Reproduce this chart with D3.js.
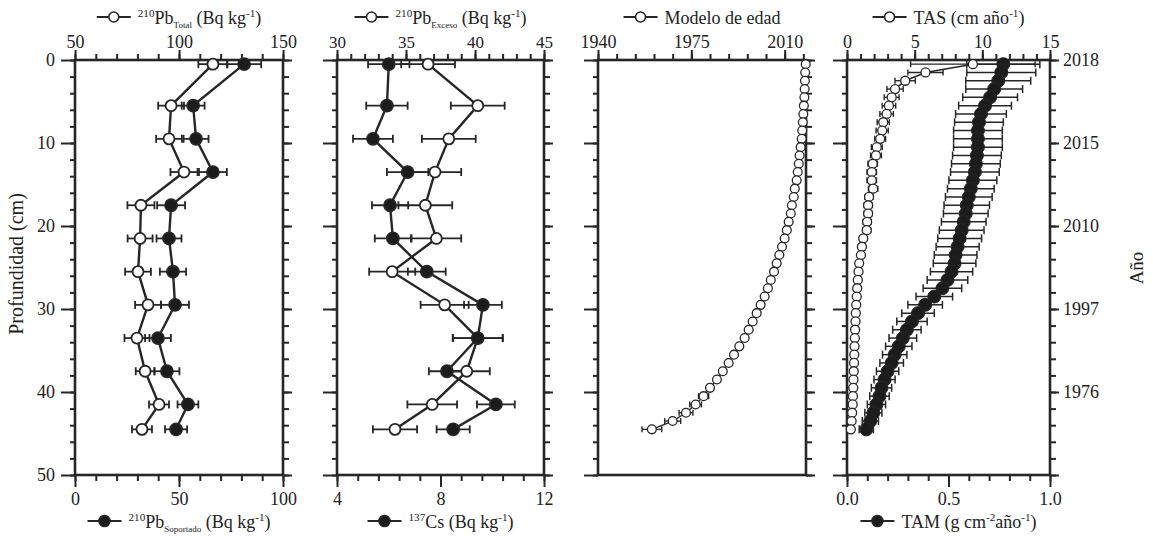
<!DOCTYPE html>
<html>
<head>
<meta charset="utf-8">
<script src="https://cdn.jsdelivr.net/npm/d3@7"></script>
<style>
body { margin: 0; background: #fff; }
text { font-family: "Liberation Serif", "Times New Roman", serif; fill: #222; }
</style>
</head>
<body>
<svg id="chart" width="1153" height="536"></svg>
<script>
/*
** Data
 */

// discrete samples (cm)
var sampleDepth = [0.5, 5.5, 9.5, 13.5, 17.5, 21.5, 25.5, 29.5, 33.5, 37.5, 41.5, 44.5];
var pbTotal     = [116.3, 96.2, 95.2, 102.4, 81.7, 81.3, 80.3, 85.1, 79.8, 83.7, 90.4, 82.2];
var pbTotalErr  = [7, 6.2, 6.2, 6.5, 6.5, 6, 6.2, 6.2, 6, 4.5, 4.8, 4.8];
var pbSop       = [81.3, 56.8, 58.2, 66.3, 46.2, 45.2, 47.1, 48.1, 39.9, 44.2, 54.3, 48.6];
var pbSopErr    = [8.2, 5.5, 6, 6.7, 6.7, 6, 6.3, 6.7, 6.2, 6, 5, 5.3];
var pbExceso    = [36.6, 40.2, 38.1, 37.1, 36.4, 37.2, 34.0, 37.8, 40.2, 39.4, 36.9, 34.2];
var pbExcesoErr = [1.95, 1.95, 1.95, 1.9, 1.95, 1.8, 1.67, 1.74, 1.8, 1.67, 1.8, 1.6];
var cs137       = [6.0, 5.93, 5.39, 6.73, 6.05, 6.16, 7.47, 9.64, 9.44, 8.25, 10.14, 8.49];
var cs137Err    = [0.8, 0.8, 0.77, 0.8, 0.7, 0.7, 0.73, 0.73, 0.97, 0.7, 0.73, 0.64];

// continuous profile, every cm
var modelDepth = [0.5, 1.5, 2.5, 3.5, 4.5, 5.5, 6.5, 7.5, 8.5, 9.5, 10.5, 11.5, 12.5, 13.5, 14.5,
                  15.5, 16.5, 17.5, 18.5, 19.5, 20.5, 21.5, 22.5, 23.5, 24.5, 25.5, 26.5, 27.5, 28.5, 29.5,
                  30.5, 31.5, 32.5, 33.5, 34.5, 35.5, 36.5, 37.5, 38.5, 39.5, 40.5, 41.5, 42.5, 43.5, 44.5];
var modelYear = [2017.9, 2017.7, 2017.6, 2017.5, 2017.4, 2017.2, 2017.0, 2016.8, 2016.6, 2016.4,
                 2016.0, 2015.6, 2015.3, 2014.9, 2014.5, 2013.8, 2013.4, 2012.7, 2012.3, 2011.5,
                 2010.8, 2010.0, 2009.0, 2008.0, 2007.0, 2006.0, 2004.8, 2003.7, 2002.5, 2001.0,
                 1999.5, 1998.0, 1996.5, 1995.0, 1993.0, 1991.0, 1989.0, 1986.8, 1984.6, 1982.0,
                 1979.6, 1976.6, 1973.0, 1968.0, 1960.2];
var modelYearErr = [0.2, 0.2, 0.2, 0.2, 0.2, 0.3, 0.3, 0.3, 0.3, 0.3, 0.4, 0.4, 0.4, 0.4, 0.4,
                    0.5, 0.5, 0.5, 0.5, 0.5, 0.6, 0.6, 0.6, 0.6, 0.7, 0.7, 0.7, 0.8, 0.8, 0.8,
                    0.9, 0.9, 1.0, 1.0, 1.0, 1.1, 1.1, 1.2, 1.2, 1.3, 1.9, 2.2, 2.6, 3.0, 3.7];
var tas = [9.3, 5.8, 4.3, 3.55, 3.3, 3.1, 2.93, 2.68, 2.6, 2.45, 2.2, 2.14, 1.9, 1.83, 1.83,
           1.93, 1.63, 1.56, 1.56, 1.49, 1.46, 1.2, 1.1, 1.03, 0.9, 0.85, 0.8, 0.75, 0.72, 0.68,
           0.65, 0.63, 0.6, 0.58, 0.56, 0.54, 0.52, 0.5, 0.48, 0.46, 0.44, 0.42, 0.38, 0.34, 0.28];
var tasErr = [4.6, 1.3, 0.75, 0.6, 0.55, 0.5, 0.5, 0.45, 0.45, 0.4, 0.4, 0.4, 0.35, 0.35, 0.35,
              0.35, 0.3, 0.3, 0.3, 0.3, 0.3, 0.25, 0.25, 0.2, 0.2, 0.2, 0.2, 0.2, 0.15, 0.15,
              0.15, 0.15, 0.15, 0.15, 0.1, 0.1, 0.1, 0.1, 0.1, 0.1, 0.1, 0.1, 0.1, 0.1, 0.1];
var tam = [0.77, 0.76, 0.745, 0.725, 0.705, 0.68, 0.66, 0.65, 0.645, 0.645, 0.645, 0.64, 0.635, 0.63, 0.62,
           0.61, 0.60, 0.59, 0.585, 0.575, 0.565, 0.555, 0.545, 0.535, 0.53, 0.515, 0.495, 0.47, 0.43, 0.385,
           0.35, 0.32, 0.295, 0.275, 0.255, 0.235, 0.22, 0.2, 0.185, 0.17, 0.16, 0.145, 0.13, 0.115, 0.095];
var tamErr = [0.18, 0.17, 0.16, 0.14, 0.135, 0.13, 0.125, 0.12, 0.12, 0.12, 0.12, 0.12, 0.12, 0.12, 0.118,
              0.115, 0.115, 0.112, 0.11, 0.11, 0.11, 0.108, 0.106, 0.105, 0.105, 0.104, 0.1, 0.095, 0.09, 0.085,
              0.08, 0.075, 0.07, 0.068, 0.065, 0.06, 0.058, 0.055, 0.052, 0.05, 0.048, 0.045, 0.042, 0.04, 0.035];

// tick labels
var depthTicks = [0, 10, 20, 30, 40, 50];
var yearTickLabels = ["2018", "2015", "2010", "1997", "1976"];

/*
** Layout
 */

var svg = d3.select("#chart");
var ink = "#262626";
var y = d3.scaleLinear().domain([0, 50]).range([60, 475]);

var panels = [
    { x0: 75,  x1: 283 },
    { x0: 337, x1: 544 },
    { x0: 598, x1: 806 },
    { x0: 847, x1: 1050 }
];

function styleAxis(g) {
    g.select(".domain").remove();
    g.selectAll("line").attr("stroke", ink).attr("stroke-width", 2);
    g.selectAll("text").attr("font-size", 18).attr("fill", "#222")
        .attr("font-family", '"Liberation Serif", "Times New Roman", serif');
}

function depthAxes(p, leftLabels, rightLabels) {
    var minor = d3.range(0, 51, 2);
    svg.append("g").attr("transform", "translate(" + p.x0 + ",0)")
        .call(d3.axisLeft(y).tickValues(minor).tickSize(5).tickFormat("")).call(styleAxis);
    svg.append("g").attr("transform", "translate(" + p.x0 + ",0)")
        .call(d3.axisLeft(y).tickValues(depthTicks).tickSize(14).tickPadding(6)
            .tickFormat(leftLabels ? d3.format("d") : "")).call(styleAxis);
    svg.append("g").attr("transform", "translate(" + p.x1 + ",0)")
        .call(d3.axisRight(y).tickValues(minor).tickSize(6).tickFormat("")).call(styleAxis);
    svg.append("g").attr("transform", "translate(" + p.x1 + ",0)")
        .call(d3.axisRight(y).tickValues(depthTicks).tickSize(9).tickPadding(4)
            .tickFormat(function (d, i) { return rightLabels ? (rightLabels[i] || "") : ""; }))
        .call(styleAxis);
}

function xAxis(scale, where, minor, major, fmt, sans) {
    var ypos = where === "top" ? 60 : 475;
    var make = where === "top" ? d3.axisTop : d3.axisBottom;
    svg.append("g").attr("transform", "translate(0," + ypos + ")")
        .call(make(scale).tickValues(minor).tickSize(6).tickFormat("")).call(styleAxis);
    var g = svg.append("g").attr("transform", "translate(0," + ypos + ")")
        .call(make(scale).tickValues(major).tickSize(where === "top" ? 10 : 12)
            .tickPadding(where === "top" ? 2 : 5).tickFormat(fmt)).call(styleAxis);
    if (sans) g.selectAll("text").attr("font-family", '"Liberation Sans", Arial, sans-serif').attr("font-size", 17);
}

function frame(p) {
    svg.append("rect")
        .attr("x", p.x0).attr("y", y(0))
        .attr("width", p.x1 - p.x0).attr("height", y(50) - y(0))
        .attr("fill", "none").attr("stroke", ink).attr("stroke-width", 2.6);
}

function errorBars(xs, vals, errs, depths, cap, width) {
    var g = svg.append("g").attr("stroke", ink).attr("stroke-width", width || 1.8);
    vals.forEach(function (v, i) {
        var yy = y(depths[i]), a = xs(v - errs[i]), b = xs(v + errs[i]);
        g.append("line").attr("x1", a).attr("x2", b).attr("y1", yy).attr("y2", yy);
        g.append("line").attr("x1", a).attr("x2", a).attr("y1", yy - cap).attr("y2", yy + cap);
        g.append("line").attr("x1", b).attr("x2", b).attr("y1", yy - cap).attr("y2", yy + cap);
    });
}

function profile(xs, vals, depths, width) {
    var line = d3.line().x(function (d) { return xs(d); }).y(function (d, i) { return y(depths[i]); });
    svg.append("path").datum(vals).attr("d", line)
        .attr("fill", "none").attr("stroke", ink).attr("stroke-width", width);
}

function markers(xs, vals, depths, r, filled, sw) {
    svg.append("g").selectAll("circle").data(vals).enter().append("circle")
        .attr("cx", function (d) { return xs(d); })
        .attr("cy", function (d, i) { return y(depths[i]); })
        .attr("r", r)
        .attr("fill", filled ? "#1c1c1c" : "#fff")
        .attr("stroke", ink).attr("stroke-width", sw || 1.8);
}

// text with super/subscripts: parts = [[text, "sup"|"sub"|undefined], ...]
function richText(g, parts, size) {
    var t = g.append("text").attr("font-size", size);
    var shift = 0;
    parts.forEach(function (p) {
        var target = p[1] === "sup" ? -0.4 * size : (p[1] === "sub" ? 0.22 * size : 0);
        t.append("tspan").attr("dy", target - shift)
            .attr("font-size", p[1] === "sup" ? size * 0.62 : (p[1] === "sub" ? size * 0.5 : size))
            .text(p[0]);
        shift = target;
    });
    return t;
}

function legend(p, ypos, parts, filled) {
    var g = svg.append("g");
    g.append("line").attr("x1", 0).attr("x2", 34).attr("y1", -7).attr("y2", -7)
        .attr("stroke", ink).attr("stroke-width", 2);
    g.append("circle").attr("cx", 17).attr("cy", -7).attr("r", filled ? 5.5 : 5)
        .attr("fill", filled ? "#1c1c1c" : "#fff").attr("stroke", ink).attr("stroke-width", 1.6);
    richText(g, parts, 18).attr("x", 41).attr("y", 0);
    var bb = g.node().getBBox();
    var cx = (p.x0 + p.x1) / 2;
    g.attr("transform", "translate(" + (cx - bb.width / 2) + "," + ypos + ")");
}

/*
** Panel 1 : 210Pb total / soportado
 */

var p1 = panels[0];
var xTotal = d3.scaleLinear().domain([50, 150]).range([p1.x0, p1.x1]);
var xSop = d3.scaleLinear().domain([0, 100]).range([p1.x0, p1.x1]);
frame(p1);
depthAxes(p1, true, null);
xAxis(xTotal, "top", d3.range(50, 151, 10), [50, 100, 150], d3.format("d"));
xAxis(xSop, "bottom", d3.range(0, 101, 10), [0, 50, 100], d3.format("d"));
errorBars(xSop, pbSop, pbSopErr, sampleDepth, 4);
errorBars(xTotal, pbTotal, pbTotalErr, sampleDepth, 4);
profile(xSop, pbSop, sampleDepth, 2.4);
profile(xTotal, pbTotal, sampleDepth, 2.4);
markers(xSop, pbSop, sampleDepth, 6, true);
markers(xTotal, pbTotal, sampleDepth, 5.5, false);
legend(p1, 24, [["210", "sup"], ["Pb"], ["Total", "sub"], [" (Bq kg"], ["-1", "sup"], [")"]], false);
legend(p1, 528, [["210", "sup"], ["Pb"], ["Soportado", "sub"], [" (Bq kg"], ["-1", "sup"], [")"]], true);

/*
** Panel 2 : 210Pb exceso / 137Cs
 */

var p2 = panels[1];
var xEx = d3.scaleLinear().domain([30, 45]).range([p2.x0, p2.x1]);
var xCs = d3.scaleLinear().domain([4, 12]).range([p2.x0, p2.x1]);
frame(p2);
depthAxes(p2, false, null);
xAxis(xEx, "top", d3.range(30, 45.5, 1), [30, 35, 40, 45], d3.format("d"), true);
xAxis(xCs, "bottom", d3.range(4, 12.1, 0.8), [4, 8, 12], d3.format("d"));
errorBars(xCs, cs137, cs137Err, sampleDepth, 4);
errorBars(xEx, pbExceso, pbExcesoErr, sampleDepth, 4);
profile(xCs, cs137, sampleDepth, 2.4);
profile(xEx, pbExceso, sampleDepth, 2.4);
markers(xEx, pbExceso, sampleDepth, 5.5, false);
markers(xCs, cs137, sampleDepth, 6, true);
legend(p2, 24, [["210", "sup"], ["Pb"], ["Exceso", "sub"], [" (Bq kg"], ["-1", "sup"], [")"]], false);
legend(p2, 528, [["137", "sup"], ["Cs (Bq kg"], ["-1", "sup"], [")"]], true);

/*
** Panel 3 : age model
 */

var p3 = panels[2];
var xYear = d3.scaleLinear().domain([1940, 2018]).range([p3.x0, p3.x1]);
frame(p3);
depthAxes(p3, false, null);
xAxis(xYear, "top", d3.range(1940, 2018, 7), [1940, 1975, 2010], d3.format("d"));
errorBars(xYear, modelYear, modelYearErr, modelDepth, 3, 1.4);
profile(xYear, modelYear, modelDepth, 1.4);
markers(xYear, modelYear, modelDepth, 4.4, false, 1.3);
legend(p3, 24, [["Modelo de edad"]], false);

/*
** Panel 4 : TAS / TAM
 */

var p4 = panels[3];
var xTas = d3.scaleLinear().domain([0, 15]).range([p4.x0, p4.x1]);
var xTam = d3.scaleLinear().domain([0, 1]).range([p4.x0, p4.x1]);
frame(p4);
depthAxes(p4, false, yearTickLabels);
xAxis(xTas, "top", d3.range(0, 15.5, 1), [0, 5, 10, 15], d3.format("d"));
xAxis(xTam, "bottom", d3.range(0, 1.01, 0.1), [0, 0.5, 1], d3.format(".1f"));
errorBars(xTam, tam, tamErr, modelDepth, 4, 1.5);
profile(xTam, tam, modelDepth, 1.5);
markers(xTam, tam, modelDepth, 6.5, true, 1);
errorBars(xTas, tas, tasErr, modelDepth, 3, 1.4);
profile(xTas, tas, modelDepth, 1.5);
markers(xTas, tas, modelDepth, 4.5, false, 1.3);
legend(p4, 24, [["TAS (cm año"], ["-1", "sup"], [")"]], false);
legend(p4, 528, [["TAM (g cm"], ["-2", "sup"], ["año"], ["-1", "sup"], [")"]], true);

/*
** Axis titles
 */

svg.append("text").attr("transform", "translate(23,264) rotate(-90)")
    .attr("text-anchor", "middle").attr("font-size", 20).text("Profundidad (cm)");
svg.append("text").attr("transform", "translate(1143,268) rotate(-90)")
    .attr("text-anchor", "middle").attr("font-size", 19).text("Año");
</script>
</body>
</html>
